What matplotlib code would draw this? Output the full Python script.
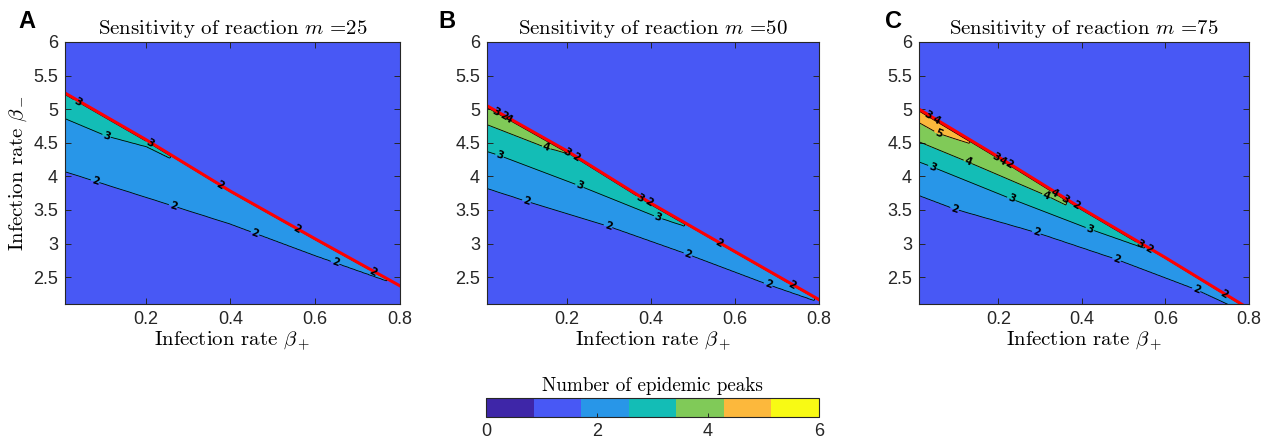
import numpy as np
import matplotlib.pyplot as plt
from matplotlib.colors import ListedColormap, Normalize
from matplotlib.cm import ScalarMappable

plt.rcParams['mathtext.fontset'] = 'cm'
plt.rcParams['axes.unicode_minus'] = False

# colours for 0..6 peaks
peak_colors = ['#3e26a8', '#4858f5', '#2896e8', '#13bdb6', '#80ca58', '#fcb83c', '#f8fa14']

m_values = [25, 50, 75]
panel_letters = ['A', 'B', 'C']

# red line: upper edge of the multi-peak region, per panel
red_x = [0.01, 0.2, 0.4, 0.6, 0.8]
red_y_A = [5.24, 4.55, 3.78, 3.07, 2.37]
red_y_B = [5.05, 4.38, 3.60, 2.88, 2.165]
red_y_C = [5.00, 4.29, 3.52, 2.79, 2.03]

# lower edges of the bands with 2, 3, 4, 5 peaks (line ends where it meets the red line)
A_b2_x = [0.01, 0.2, 0.4, 0.6, 0.78]
A_b2_y = [4.07, 3.69, 3.29, 2.82, 2.42]
A_b3_x = [0.01, 0.108, 0.203, 0.258]
A_b3_y = [4.86, 4.60, 4.44, 4.27]

B_b2_x = [0.01, 0.104, 0.298, 0.488, 0.679, 0.79]
B_b2_y = [3.82, 3.63, 3.26, 2.84, 2.39, 2.15]
B_b3_x = [0.01, 0.04, 0.23, 0.417, 0.48]
B_b3_y = [4.37, 4.31, 3.86, 3.39, 3.26]
B_b4_x = [0.01, 0.15, 0.22]
B_b4_y = [4.77, 4.43, 4.31]

C_b2_x = [0.01, 0.095, 0.291, 0.483, 0.674, 0.8]
C_b2_y = [3.715, 3.515, 3.165, 2.765, 2.315, 1.95]
C_b3_x = [0.01, 0.042, 0.231, 0.419, 0.55]
C_b3_y = [4.215, 4.14, 3.665, 3.215, 2.93]
C_b4_x = [0.01, 0.127, 0.315, 0.363]
C_b4_y = [4.515, 4.215, 3.715, 3.57]
C_b5_x = [0.01, 0.056, 0.131]
C_b5_y = [4.80, 4.64, 4.49]

# where the contour numbers sit (x positions), on each lower edge ...
A_lab_edge = [[0.081, 0.265, 0.458, 0.647], [0.108]]
B_lab_edge = [[0.104, 0.298, 0.488, 0.679], [0.04, 0.23, 0.417], [0.151]]
C_lab_edge = [[0.095, 0.291, 0.483, 0.674], [0.042, 0.231, 0.419], [0.127, 0.315], [0.056]]
# ... and on the lines packed under the red line (levels 2, 3, 4, ...)
A_lab_red = [[0.375, 0.555, 0.735], [0.04, 0.21]]
B_lab_red = [[0.05, 0.22, 0.395, 0.56, 0.734], [0.03, 0.2, 0.375], [0.06]]
C_lab_red = [[0.225, 0.385, 0.56, 0.74], [0.03, 0.195, 0.36, 0.54], [0.05, 0.21, 0.335]]

panels = [
    (red_y_A, [(A_b2_x, A_b2_y), (A_b3_x, A_b3_y)], A_lab_edge, A_lab_red),
    (red_y_B, [(B_b2_x, B_b2_y), (B_b3_x, B_b3_y), (B_b4_x, B_b4_y)], B_lab_edge, B_lab_red),
    (red_y_C, [(C_b2_x, C_b2_y), (C_b3_x, C_b3_y), (C_b4_x, C_b4_y), (C_b5_x, C_b5_y)],
     C_lab_edge, C_lab_red),
]

xg = np.linspace(0.0, 0.82, 330)
yg = np.linspace(1.8, 6.1, 900)
drop = 0.035


def peaks_grid(red_y, bounds):
    Z = np.empty((len(yg), len(xg)))
    for j, x in enumerate(xg):
        r = np.interp(x, red_x, red_y)
        ys, vs = [1.0], [1.0]
        for k, (bx, by) in enumerate(bounds, start=2):
            if x > bx[-1]:
                break
            b = np.interp(x, bx, by)
            if b >= r - drop:
                break
            ys.append(b)
            vs.append(k)
        ys += [r - drop, r, 9.0]
        vs += [vs[-1] + 0.9, 1.5, 1.5]
        Z[:, j] = np.interp(yg, ys, vs)
    return Z


fig = plt.figure(figsize=(12.69, 4.40), dpi=100)
W, H = 1269, 440
boxes = [(65, 400), (487, 819), (919, 1249)]
letter_x = [18, 438, 885]

serif = 'cmr10'
tick_col = '#262626'

for i, ((red_y, bounds, lab_edge, lab_red), (l, r)) in enumerate(zip(panels, boxes)):
    ax = fig.add_axes([l / W, 1 - 304 / H, (r - l) / W, 262 / H])
    Z = peaks_grid(red_y, bounds)
    ax.contourf(xg, yg, Z, levels=np.arange(0, 8), colors=peak_colors)
    for k in range(2, len(bounds) + 2):
        cs = ax.contour(xg, yg, Z, levels=[k], colors='k', linewidths=0.6)
        pos = []
        bx, by = bounds[k - 2]
        pos += [(x, np.interp(x, bx, by)) for x in lab_edge[k - 2]]
        if k - 2 < len(lab_red):
            pos += [(x, np.interp(x, red_x, red_y) - 0.02) for x in lab_red[k - 2]]
        lbls = ax.clabel(cs, fmt='%d', fontsize=7.5, inline=True, inline_spacing=1,
                         manual=pos)
        for t in lbls:
            t.set_fontweight('bold')
    ax.plot(red_x, red_y, color='red', lw=2.2)

    ax.set_xlim(0.01, 0.8)
    ax.set_ylim(2.1, 6)
    ax.set_xticks([0.2, 0.4, 0.6, 0.8])
    ax.set_xticklabels(['0.2', '0.4', '0.6', '0.8'])
    ax.set_yticks([2.5, 3, 3.5, 4, 4.5, 5, 5.5, 6])
    ax.set_yticklabels(['2.5', '3', '3.5', '4', '4.5', '5', '5.5', '6'])
    ax.tick_params(direction='in', top=True, right=True, length=4, width=0.7,
                   labelsize=13, colors=tick_col, pad=5)
    for lab in ax.get_xticklabels() + ax.get_yticklabels():
        lab.set_fontfamily('Liberation Sans')
    for s in ax.spines.values():
        s.set_color(tick_col)
        s.set_linewidth(0.8)

    ax.set_title('Sensitivity of reaction $m$ =%d' % m_values[i],
                 fontfamily=serif, fontsize=15, pad=6)
    ax.set_xlabel(r'Infection rate $\beta_+$', fontfamily=serif, fontsize=15,
                  labelpad=1)
    if i == 0:
        ax.set_ylabel(r'Infection rate $\beta_-$', fontfamily=serif, fontsize=15,
                      labelpad=3)
    fig.text(letter_x[i] / W, 1 - 27.5 / H, panel_letters[i], fontfamily='Liberation Sans',
             fontweight='bold', fontsize=17, va='baseline')

# shared colour bar
cax = fig.add_axes([486 / W, 1 - 417 / H, 333 / W, 19 / H])
sm = ScalarMappable(norm=Normalize(0, 6), cmap=ListedColormap(peak_colors))
cb = fig.colorbar(sm, cax=cax, orientation='horizontal', ticks=[0, 2, 4, 6])
cb.ax.tick_params(direction='in', length=3, width=0.7, labelsize=13, colors=tick_col, pad=4)
for lab in cb.ax.get_xticklabels():
    lab.set_fontfamily('Liberation Sans')
cb.outline.set_edgecolor(tick_col)
cb.outline.set_linewidth(0.8)
cax.set_title('Number of epidemic peaks', fontfamily=serif, fontsize=13.75, pad=5)

fig.savefig('out.png', dpi=100)
